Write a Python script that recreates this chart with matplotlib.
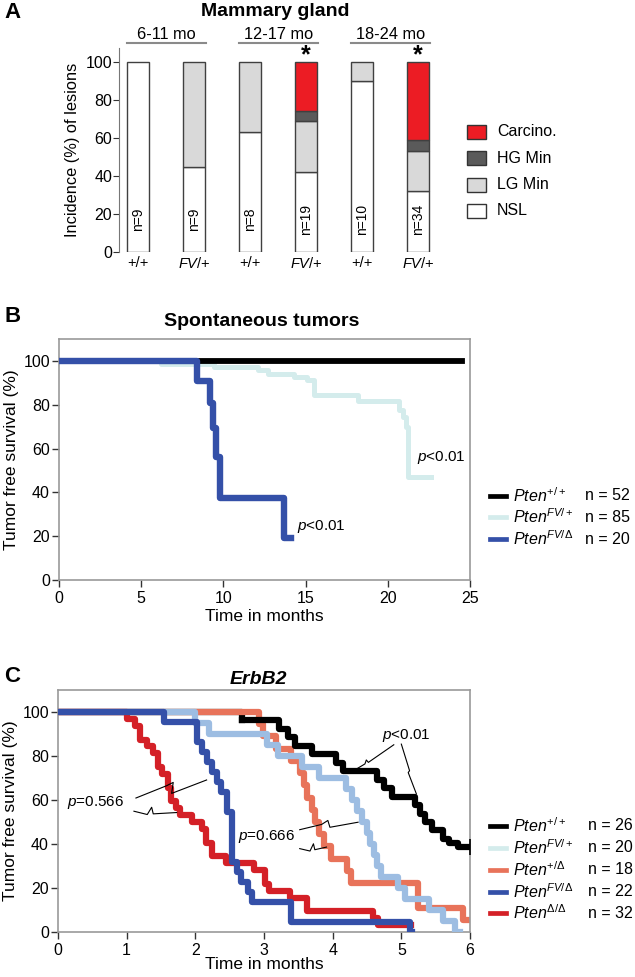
import numpy as np
import matplotlib.pyplot as plt
from matplotlib.lines import Line2D
from matplotlib.patches import Rectangle

plt.rcParams['font.family'] = ['Liberation Sans', 'DejaVu Sans']
plt.rcParams['mathtext.fontset'] = 'custom'
plt.rcParams['mathtext.rm'] = 'Liberation Sans'
plt.rcParams['mathtext.it'] = 'Liberation Sans:italic'
plt.rcParams['mathtext.bf'] = 'Liberation Sans:bold'

W, H = 635, 977

# ---- panel A: mammary gland lesions ----
groups = ['6-11 mo', '12-17 mo', '18-24 mo']
genotypes = ['+/+', r'$\mathit{FV}$/+', '+/+', r'$\mathit{FV}$/+', '+/+', r'$\mathit{FV}$/+']
n_mice = [9, 9, 8, 19, 10, 34]
nsl = [100, 45, 63, 42, 90, 32]
lg_min = [0, 55, 37, 27, 10, 21]
hg_min = [0, 0, 0, 5, 0, 6]
carcino = [0, 0, 0, 26, 0, 41]
signif = [False, False, False, True, False, True]
lesion_names = ['Carcino.', 'HG Min', 'LG Min', 'NSL']
lesion_colors = ['#ec1c24', '#5a5a5a', '#d9d9d9', '#ffffff']

# ---- panel B: spontaneous tumors ----
b_wt_t = [0, 24.5]
b_wt_s = [100, 100]
b_fv_t = [0, 6.2, 9.4, 12.1, 12.7, 14.3, 15.1, 15.5, 18.2, 20.7, 20.9, 21.1, 21.2, 22.6]
b_fv_s = [100, 98.8, 97.0, 95.7, 94.2, 92.7, 91.2, 84.3, 81.8, 77.5, 74.5, 69.9, 47.1, 47.1]
b_fd_t = [0, 8.4, 9.17, 9.37, 9.57, 9.78, 13.7, 14.1]
b_fd_s = [100, 91, 81, 69.5, 56, 37.5, 19, 19]
b_labels = [r'$\mathit{Pten}^{+/+}$', r'$\mathit{Pten}^{FV/+}$', r'$\mathit{Pten}^{FV/\Delta}$']
b_n = [52, 85, 20]
b_colors = ['#000000', '#d4ecec', '#3450a8']

# ---- panel C: ErbB2 ----
c_wt_t = [0, 2.68, 3.22, 3.35, 3.45, 3.7, 4.05, 4.15, 4.65, 4.75, 4.87, 5.2, 5.27, 5.35, 5.45, 5.6, 5.7, 5.82, 6.0]
c_wt_s = [100, 96.2, 92.3, 88.5, 84.6, 80.8, 76.9, 73.1, 69.2, 65.4, 61.5, 57.7, 53.8, 50, 46.2, 42.3, 40.4, 38.5, 38.5]
c_fv_t = [0, 2.0, 2.2, 3.05, 3.2, 3.55, 3.8, 4.2, 4.28, 4.35, 4.42, 4.5, 4.55, 4.6, 4.65, 4.7,
          4.95, 5.05, 5.4, 5.6, 5.78, 5.85]
c_fv_s = [100, 95, 90, 85, 80, 75, 70, 65, 60, 55, 50, 45, 40, 35, 30, 25, 20, 15, 10, 5, 0, 0]
c_hd_t = [0, 2.92, 2.98, 3.17, 3.4, 3.53, 3.58, 3.63, 3.7, 3.75, 3.8, 3.87, 3.97, 4.21, 4.26, 5.24, 5.9, 6.0]
c_hd_s = [100, 94.4, 88.9, 83.3, 77.8, 72.2, 66.7, 61.1, 55.6, 50, 44.4, 38.9, 33.3, 27.8, 22.2, 11.1, 5.6, 5.6]
c_fd_t = [0, 1.55, 2.03, 2.1, 2.17, 2.24, 2.31, 2.38, 2.46, 2.53, 2.6, 2.67, 2.77, 2.82, 3.4, 5.12, 5.15]
c_fd_s = [100, 95.5, 86.4, 81.8, 77.3, 72.7, 68.2, 63.6, 54.5, 31.8, 27.3, 22.7, 18.2, 13.6, 4.5, 0, 0]
c_dd_t = [0, 1.0, 1.12, 1.2, 1.3, 1.38, 1.45, 1.52, 1.6, 1.65, 1.72, 1.78, 1.95, 2.1, 2.15, 2.25,
          2.45, 2.85, 3.02, 3.08, 3.38, 3.62, 4.59, 4.66, 5.14]
c_dd_s = [100, 96.9, 93.8, 87.5, 84.4, 81.3, 75, 71.9, 65.6, 59.4, 56.3, 53.1, 50, 46.9, 40.6, 34.4,
          31.3, 28.1, 21.9, 18.8, 15.6, 9.4, 6.3, 3.1, 3.1]
c_labels = [r'$\mathit{Pten}^{+/+}$', r'$\mathit{Pten}^{FV/+}$', r'$\mathit{Pten}^{+/\Delta}$',
            r'$\mathit{Pten}^{FV/\Delta}$', r'$\mathit{Pten}^{\Delta/\Delta}$']
c_n = [26, 20, 18, 22, 32]
c_legend_colors = ['#000000', '#d4ecec', '#e8735a', '#3450a8', '#d42027']
c_fv_curve_color = '#9dbde2'


def box(l, t, r, b):
    return [l / W, 1 - b / H, (r - l) / W, (b - t) / H]


def style_km(ax):
    for s in ax.spines.values():
        s.set_color('#9a9a9a')
        s.set_linewidth(1.2)
    ax.tick_params(length=5, width=1, color='#333333', labelsize=11.5)
    ax.tick_params(axis='x', pad=3)
    ax.tick_params(axis='y', pad=1.5)


def legend_rows(fig, ys, colors, labels, ns, x_n):
    for y, col, lab, n in zip(ys, colors, labels, ns):
        fig.add_artist(Line2D([490 / W, 506 / W], [1 - y / H] * 2, color=col, lw=3.4))
        fig.text(513 / W, 1 - y / H, lab, fontsize=11.5, va='center')
        fig.text(x_n / W, 1 - y / H, f'n = {n}', fontsize=11.5, va='center')


fig = plt.figure(figsize=(W / 100, H / 100), dpi=100)

# ---------------- A ----------------
axA = fig.add_axes(box(119, 48, 440, 252))
x = np.arange(len(nsl))
bottom = np.zeros(len(nsl))
for vals, col in zip([nsl, lg_min, hg_min, carcino], lesion_colors[::-1]):
    vals = np.array(vals, dtype=float)
    m = vals > 0
    axA.bar(x[m], vals[m], bottom=bottom[m], width=0.4, color=col,
            edgecolor='#404040', linewidth=1)
    bottom += vals
for i, n in enumerate(n_mice):
    axA.text(i, 17, f'n={n}', rotation=90, ha='center', va='center', fontsize=10)
    if signif[i]:
        axA.text(i, 103.7, '*', ha='center', va='center', fontsize=18, fontweight='bold')
for g, name in enumerate(groups):
    x0, x1 = 2 * g - 0.2, 2 * g + 1.21
    axA.plot([x0, x1], [110, 110], color='#8a8a8a', lw=1.5, clip_on=False)
    axA.text((x0 + x1) / 2, 114.3, name, ha='center', va='center', fontsize=11.8)
axA.set_xlim(-0.34, 5.39)
axA.set_ylim(0, 107.4)
axA.set_yticks(range(0, 101, 20))
axA.set_xticks(x)
axA.set_xticklabels(genotypes, fontsize=10.5)
for s in ['top', 'right', 'bottom']:
    axA.spines[s].set_visible(False)
axA.spines['left'].set_color('#777777')
axA.tick_params(axis='y', length=4, color='#333333', labelsize=11.5, pad=1)
axA.tick_params(axis='x', length=0, pad=3)
axA.set_ylabel('Incidence (%) of lesions', fontsize=11.8, labelpad=4)
fig.text(275 / W, 1 - 12 / H, 'Mammary gland', ha='center', va='center',
         fontsize=14, fontweight='bold')
fig.text(4 / W, 1 - 13 / H, 'A', ha='left', va='center', fontsize=16, fontweight='bold')
for k, (name, col) in enumerate(zip(lesion_names, lesion_colors)):
    yc = 132 + 26.3 * k
    fig.add_artist(Rectangle((467 / W, 1 - (yc + 7) / H), 19 / W, 14 / H,
                             facecolor=col, edgecolor='#333333', lw=1))
    fig.text(497 / W, 1 - yc / H, name, va='center', fontsize=11.5)

# ---------------- B ----------------
axB = fig.add_axes(box(59, 339, 470, 580))
axB.step(b_fv_t, b_fv_s, where='post', color=b_colors[1], lw=3.6, zorder=2)
axB.step(b_wt_t, b_wt_s, where='post', color=b_colors[0], lw=4.2, zorder=3)
axB.step(b_fd_t, b_fd_s, where='post', color=b_colors[2], lw=4.6, zorder=4)
axB.text(14.5, 24.2, r'$\mathit{p}$<0.01', fontsize=11, va='center')
axB.text(21.8, 55.7, r'$\mathit{p}$<0.01', fontsize=11, va='center')
axB.set_xlim(0, 25)
axB.set_ylim(0, 110)
axB.set_xticks(range(0, 26, 5))
axB.set_yticks(range(0, 101, 20))
style_km(axB)
axB.set_xlabel('Time in months', fontsize=12.5, labelpad=2)
axB.set_ylabel('Tumor free survival (%)', fontsize=12.5, labelpad=3)
fig.text(262 / W, 1 - 322 / H, 'Spontaneous tumors', ha='center', va='center',
         fontsize=14, fontweight='bold')
fig.text(4 / W, 1 - 316 / H, 'B', ha='left', va='center', fontsize=16, fontweight='bold')
legend_rows(fig, [496, 517, 539], b_colors, b_labels, b_n, 585)

# ---------------- C ----------------
axC = fig.add_axes(box(58, 690, 470, 932))
# the wild-type plateau at 100% sits underneath the other curves
axC.step(c_wt_t[:2], c_wt_s[:2], where='post', color=c_legend_colors[0], lw=4.5, zorder=1)
axC.step(c_hd_t, c_hd_s, where='post', color=c_legend_colors[2], lw=4.5, zorder=2)
axC.step(c_fv_t, c_fv_s, where='post', color=c_fv_curve_color, lw=4.5, zorder=3)
axC.step(c_dd_t, c_dd_s, where='post', color=c_legend_colors[4], lw=4.5, zorder=4)
axC.step(c_fd_t, c_fd_s, where='post', color=c_legend_colors[3], lw=4.5, zorder=5)
axC.step(c_wt_t[1:], c_wt_s[1:], where='post', color=c_legend_colors[0], lw=4.5, zorder=6)
axC.plot([c_wt_t[-1]], [c_wt_s[-1]], marker='|', ms=12, mew=1.2, color='black',
         zorder=7, clip_on=False)

# connector lines for the p-value labels
callouts = [
    ([1.135, 1.582, 1.678, 1.655, 2.164], [60.9, 66.5, 68.0, 63.0, 69.1]),
    ([1.106, 1.30, 1.364, 1.387, 1.728], [54.9, 53.4, 56.7, 53.7, 54.3]),
    ([3.52, 3.84, 3.93, 3.96, 4.37], [46.5, 48.9, 50.7, 47.6, 49.9]),
    ([3.52, 3.67, 3.72, 3.74, 3.91], [37.9, 36.8, 40.1, 37.4, 38.6]),
    ([4.89, 4.52, 4.49, 4.47, 4.32], [85.1, 77.1, 78.2, 76.4, 73.6]),
    ([5.00, 5.12, 5.10, 5.22], [85.4, 73.3, 72.5, 62.7]),
]
for cx, cy in callouts:
    axC.plot(cx, cy, color='black', lw=0.8, zorder=8)
axC.text(0.13, 58.8, r'$\mathit{p}$=0.566', fontsize=11, va='center')
axC.text(2.62, 43.4, r'$\mathit{p}$=0.666', fontsize=11, va='center')
axC.text(4.72, 89.1, r'$\mathit{p}$<0.01', fontsize=11, va='center')
axC.set_xlim(0, 6)
axC.set_ylim(0, 110)
axC.set_xticks(range(0, 7))
axC.set_yticks(range(0, 101, 20))
style_km(axC)
axC.set_xlabel('Time in months', fontsize=12.5, labelpad=-1)
axC.set_ylabel('Tumor free survival (%)', fontsize=12.5, labelpad=3)
fig.text(258 / W, 1 - 680 / H, 'ErbB2', ha='center', va='center',
         fontsize=14, fontweight='bold', fontstyle='italic')
fig.text(4 / W, 1 - 676 / H, 'C', ha='left', va='center', fontsize=16, fontweight='bold')
legend_rows(fig, [826, 848, 870, 892, 913], c_legend_colors, c_labels, c_n, 588)

fig.savefig('out.png', dpi=100)
